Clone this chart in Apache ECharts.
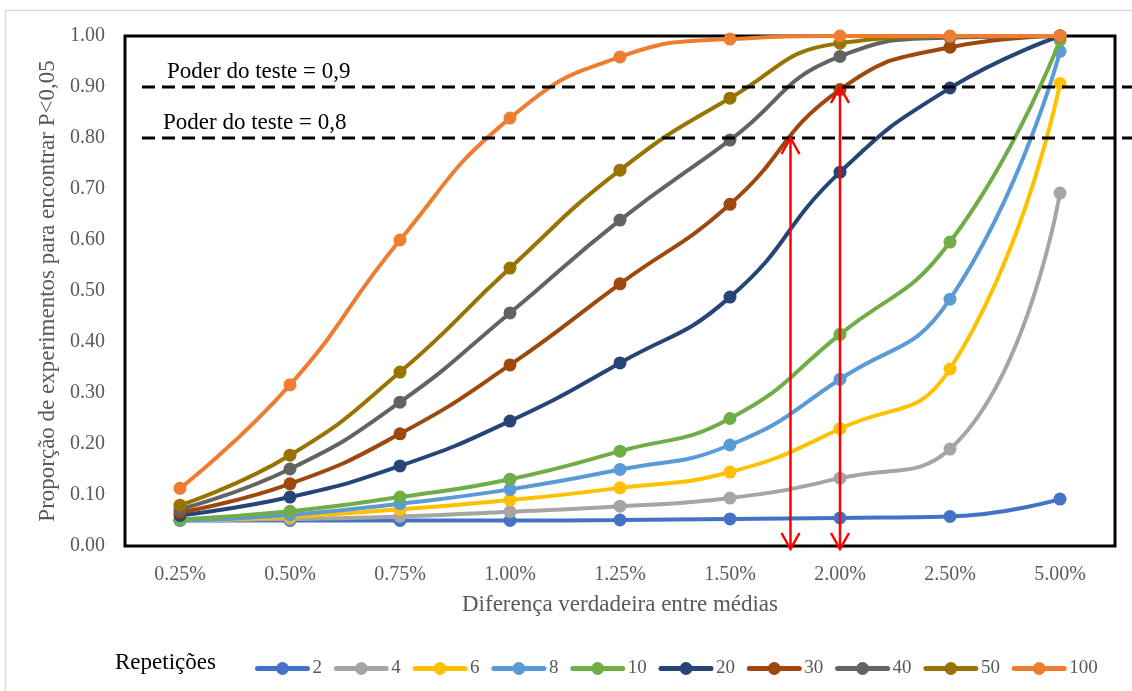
<!DOCTYPE html>
<html>
<head>
<meta charset="utf-8">
<script src="https://cdn.jsdelivr.net/npm/echarts@6/dist/echarts.min.js"></script>
<style>
  html, body { margin: 0; padding: 0; background: #ffffff; }
  #chart { width: 1132px; height: 691px; }
</style>
</head>
<body>
<div id="chart"></div>
<script>
// True difference between means (x categories)
const categories = ['0.25%', '0.50%', '0.75%', '1.00%', '1.25%', '1.50%', '2.00%', '2.50%', '5.00%'];

// Proportion of experiments reaching P<0,05, one array per number of replicates
const rep2   = [0.050, 0.050, 0.050, 0.050, 0.051, 0.053, 0.055, 0.058, 0.092];
const rep4   = [0.050, 0.053, 0.058, 0.067, 0.078, 0.094, 0.133, 0.190, 0.692];
const rep6   = [0.050, 0.057, 0.072, 0.090, 0.114, 0.145, 0.230, 0.347, 0.907];
const rep8   = [0.050, 0.061, 0.083, 0.111, 0.150, 0.198, 0.327, 0.484, 0.970];
const rep10  = [0.052, 0.068, 0.096, 0.131, 0.186, 0.250, 0.415, 0.596, 0.992];
const rep20  = [0.060, 0.096, 0.157, 0.245, 0.359, 0.488, 0.733, 0.898, 1.000];
const rep30  = [0.066, 0.122, 0.220, 0.355, 0.514, 0.670, 0.895, 0.978, 1.000];
const rep40  = [0.072, 0.151, 0.282, 0.457, 0.639, 0.796, 0.960, 0.997, 1.000];
const rep50  = [0.080, 0.178, 0.341, 0.545, 0.737, 0.878, 0.986, 0.999, 1.000];
const rep100 = [0.113, 0.316, 0.600, 0.839, 0.959, 0.994, 1.000, 1.000, 1.000];

const seriesNames = ['2', '4', '6', '8', '10', '20', '30', '40', '50', '100'];
const seriesValues = [rep2, rep4, rep6, rep8, rep10, rep20, rep30, rep40, rep50, rep100];
const seriesColors = ['#4472C4', '#A5A5A5', '#FFC000', '#5B9BD5', '#70AD47',
                      '#264478', '#9E480E', '#636363', '#997300', '#ED7D31'];

// Y axis ticks
const yTicks = { min: 0, max: 1, step: 0.1 };

// Power reference lines and their captions
const powerLevels = [0.9, 0.8];
const powerLabels = ['Poder do teste = 0,9', 'Poder do teste = 0,8'];

// Arrows dropping from a power level to the x axis (position as fractional category index)
const arrowLevels = [0.8, 0.9];
const arrowCategoryPos = [5.55, 6.0];

const SERIF = '"Liberation Serif", "Times New Roman", serif';
const GREY_TEXT = '#595959';

const chart = echarts.init(document.getElementById('chart'), null, { renderer: 'canvas' });

chart.setOption({
  animation: false,
  backgroundColor: '#ffffff',
  grid: {
    left: 125, right: 17, top: 36, bottom: 145,
    show: true, borderColor: '#000000', borderWidth: 3, backgroundColor: 'transparent'
  },
  legend: {
    left: 250, top: 654,
    itemWidth: 50, itemHeight: 16, itemGap: 11.8,
    lineStyle: { width: 5, cap: 'round' },
    textStyle: { fontFamily: SERIF, fontSize: 19, color: GREY_TEXT },
    data: seriesNames
  },
  xAxis: {
    type: 'category',
    data: categories,
    boundaryGap: true,
    axisLine: { show: false },
    axisTick: { show: false },
    axisLabel: { fontFamily: SERIF, fontSize: 20, color: GREY_TEXT, margin: 19 },
    name: 'Diferença verdadeira entre médias',
    nameLocation: 'middle',
    nameGap: 47,
    nameTextStyle: { fontFamily: SERIF, fontSize: 23, color: GREY_TEXT }
  },
  yAxis: {
    type: 'value',
    min: yTicks.min, max: yTicks.max, interval: yTicks.step,
    axisLine: { show: false },
    axisTick: { show: false },
    splitLine: { show: false },
    axisLabel: {
      fontFamily: SERIF, fontSize: 20, color: GREY_TEXT, margin: 20,
      formatter: v => v.toFixed(2)
    },
    name: 'Proporção de experimentos para encontrar P<0,05',
    nameLocation: 'middle',
    nameGap: 66,
    nameTextStyle: { fontFamily: SERIF, fontSize: 23, color: GREY_TEXT }
  },
  series: seriesNames.map((name, i) => ({
    name: name,
    type: 'line',
    data: seriesValues[i],
    smooth: 0.5,
    symbol: 'circle',
    symbolSize: 13,
    lineStyle: { width: 4, color: seriesColors[i] },
    itemStyle: { color: seriesColors[i] },
    z: 2 + i
  }))
});

// Reference lines, captions, arrows and frame drawn from axis conversions
function drawOverlay() {
  const yPix = v => chart.convertToPixel({ yAxisIndex: 0 }, v);
  const xAt = pos => {
    const i0 = Math.floor(pos), i1 = Math.min(i0 + 1, categories.length - 1);
    const p0 = chart.convertToPixel({ xAxisIndex: 0 }, categories[i0]);
    const p1 = chart.convertToPixel({ xAxisIndex: 0 }, categories[i1]);
    return p0 + (p1 - p0) * (pos - i0);
  };
  const y0 = yPix(0);
  const elements = [];

  // outer chart frame
  elements.push({
    type: 'rect', shape: { x: 5.5, y: 10.5, width: 1200, height: 800 },
    style: { fill: 'none', stroke: '#D9D9D9', lineWidth: 1.5 }, z: 1, silent: true
  });

  powerLevels.forEach((lvl, k) => {
    const y = yPix(lvl);
    elements.push({
      type: 'line', shape: { x1: 142, y1: y, x2: 1132, y2: y },
      style: { stroke: '#000000', lineWidth: 3, lineDash: [13, 7] }, z: 50, silent: true
    });
    elements.push({
      type: 'text', x: k === 0 ? 167 : 163, y: y - 4,
      style: {
        text: powerLabels[k], fontFamily: SERIF, fontSize: 23, fill: '#000000',
        textVerticalAlign: 'bottom', textAlign: 'left'
      }, z: 50, silent: true
    });
  });

  arrowLevels.forEach((lvl, k) => {
    const x = xAt(arrowCategoryPos[k]);
    const yTop = yPix(lvl);
    const yBot = y0 + 3;
    const head = 16, half = 9;
    const red = { stroke: '#FF0000', lineWidth: 2.5, fill: 'none' };
    elements.push({ type: 'line', shape: { x1: x, y1: yTop, x2: x, y2: yBot }, style: red, z: 60, silent: true });
    elements.push({ type: 'polyline', shape: { points: [[x - half, yTop + head], [x, yTop], [x + half, yTop + head]] }, style: red, z: 60, silent: true });
    elements.push({ type: 'polyline', shape: { points: [[x - half, yBot - head], [x, yBot], [x + half, yBot - head]] }, style: red, z: 60, silent: true });
  });

  // legend caption
  elements.push({
    type: 'text', x: 115, y: 663,
    style: {
      text: 'Repetições', fontFamily: SERIF, fontSize: 23, fill: '#000000',
      textVerticalAlign: 'middle', textAlign: 'left'
    }, z: 50, silent: true
  });

  chart.setOption({ graphic: { elements: elements } });
}
drawOverlay();
</script>
</body>
</html>
